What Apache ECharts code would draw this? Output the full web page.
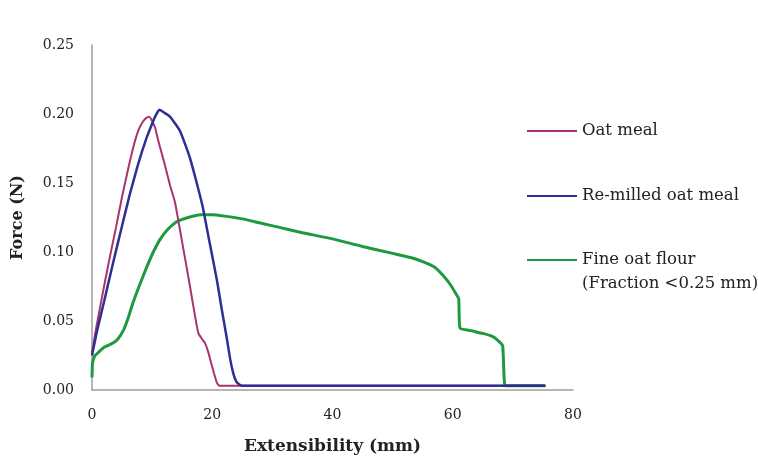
<!DOCTYPE html>
<html>
<head>
<meta charset="utf-8">
<script src="https://cdn.jsdelivr.net/npm/echarts@6/dist/echarts.min.js"></script>
<style>
html,body{margin:0;padding:0;background:#fff;}
#chart{width:758px;height:460px;}
</style>
</head>
<body>
<div id="chart"></div>
<script>
// Oat meal
var oatX = [0, 0.5, 1, 2, 3, 4, 5, 6, 7, 7.7, 8.4, 9, 9.5, 10, 10.5, 11, 12, 13, 13.8, 15, 16.3, 17.2, 17.7, 18.3, 18.8, 19.3, 19.8, 20.3, 20.8, 21.2, 22, 30, 40, 50, 60, 70, 75.4];
var oatY = [0.027, 0.04, 0.052, 0.075, 0.097, 0.118, 0.14, 0.16, 0.178, 0.188, 0.194, 0.197, 0.198, 0.195, 0.19, 0.181, 0.165, 0.148, 0.136, 0.107, 0.075, 0.052, 0.041, 0.037, 0.034, 0.028, 0.02, 0.012, 0.005, 0.003, 0.003, 0.003, 0.003, 0.003, 0.003, 0.003, 0.003];
// Re-milled oat meal
var remX = [0, 0.8, 2, 3.5, 5, 6.3, 7.7, 9.1, 10, 10.6, 11.2, 12, 13, 14, 14.6, 15.5, 16.3, 17.3, 18.4, 19.6, 20.8, 21.6, 22.4, 23, 23.5, 24, 24.5, 25, 30, 40, 50, 60, 70, 75.4];
var remY = [0.025, 0.042, 0.064, 0.092, 0.119, 0.142, 0.164, 0.183, 0.193, 0.199, 0.203, 0.201, 0.198, 0.192, 0.188, 0.178, 0.168, 0.152, 0.133, 0.106, 0.079, 0.058, 0.038, 0.022, 0.012, 0.006, 0.004, 0.003, 0.003, 0.003, 0.003, 0.003, 0.003, 0.003];
// Fine oat flour (Fraction <0.25 mm)
var fineX = [0, 0.1, 0.5, 1, 2, 3.5, 4.3, 5.2, 6, 6.8, 8, 9.1, 10.2, 11.3, 12.5, 14.1, 16, 18, 20, 22, 25, 28, 31, 35, 40, 45, 50, 53, 55, 57, 58.4, 59.5, 60.5, 61, 61.2, 63, 65, 66.5, 67.5, 68.3, 68.7, 70, 72, 75.4];
var fineY = [0.009, 0.02, 0.025, 0.027, 0.031, 0.034, 0.037, 0.043, 0.052, 0.063, 0.077, 0.089, 0.1, 0.109, 0.116, 0.122, 0.125, 0.127, 0.127, 0.126, 0.124, 0.121, 0.118, 0.114, 0.1095, 0.104, 0.099, 0.096, 0.093, 0.089, 0.083, 0.077, 0.07, 0.066, 0.045, 0.043, 0.041, 0.039, 0.036, 0.032, 0.003, 0.003, 0.003, 0.003];

var xTicks = [0, 20, 40, 60, 80];
var yTicks = [0.00, 0.05, 0.10, 0.15, 0.20, 0.25];
var seriesNames = ['Oat meal', 'Re-milled oat meal', 'Fine oat flour (Fraction <0.25 mm)'];

function pairs(xs, ys) { return xs.map(function (x, i) { return [x, ys[i]]; }); }

var font = 'DejaVu Serif';
var chart = echarts.init(document.getElementById('chart'));
var legendBase = {
  orient: 'vertical', left: 527, itemWidth: 50, itemHeight: 2, padding: 0, icon: 'rect',
  textStyle: { fontFamily: font, fontSize: 16.5, color: '#222', lineHeight: 24 }
};
chart.setOption({
  animation: false,
  backgroundColor: '#fff',
  grid: { left: 92, right: 185, top: 45, bottom: 70 },
  xAxis: {
    type: 'value', min: xTicks[0], max: xTicks[xTicks.length - 1], interval: 20,
    name: 'Extensibility (mm)', nameLocation: 'middle', nameGap: 48,
    nameTextStyle: { fontFamily: font, fontSize: 17, fontWeight: 'bold', color: '#222' },
    axisLine: { lineStyle: { color: '#a39c98', width: 1.5 } },
    axisTick: { show: false },
    splitLine: { show: false },
    axisLabel: { fontFamily: font, fontSize: 14, color: '#222', margin: 18 }
  },
  yAxis: {
    type: 'value', min: yTicks[0], max: yTicks[yTicks.length - 1], interval: 0.05,
    name: 'Force (N)', nameLocation: 'middle', nameGap: 66,
    nameTextStyle: { fontFamily: font, fontSize: 16, fontWeight: 'bold', color: '#222' },
    axisLine: { show: true, lineStyle: { color: '#a39c98', width: 1.5 } },
    axisTick: { show: false },
    splitLine: { show: false },
    axisLabel: { fontFamily: font, fontSize: 14, color: '#222', margin: 18,
      formatter: function (v) { return v.toFixed(2); } }
  },
  legend: [
    Object.assign({}, legendBase, { top: 119, data: [seriesNames[0]] }),
    Object.assign({}, legendBase, { top: 184, data: [seriesNames[1]] }),
    Object.assign({}, legendBase, { top: 224, data: [seriesNames[2]],
      formatter: function () { return '\nFine oat flour\n(Fraction <0.25 mm)'; } })
  ],
  series: [
    { name: seriesNames[0], type: 'line', data: pairs(oatX, oatY), symbol: 'none', smooth: 0.15,
      lineStyle: { color: '#a8336f', width: 2 }, itemStyle: { color: '#a8336f' }, z: 3 },
    { name: seriesNames[1], type: 'line', data: pairs(remX, remY), symbol: 'none', smooth: 0.15,
      lineStyle: { color: '#2e2f94', width: 2.5 }, itemStyle: { color: '#2e2f94' }, z: 4 },
    { name: seriesNames[2], type: 'line', data: pairs(fineX, fineY), symbol: 'none', smooth: 0.15,
      lineStyle: { color: '#1e9a3e', width: 3 }, itemStyle: { color: '#1e9a3e' }, z: 2 }
  ]
});
</script>
</body>
</html>
